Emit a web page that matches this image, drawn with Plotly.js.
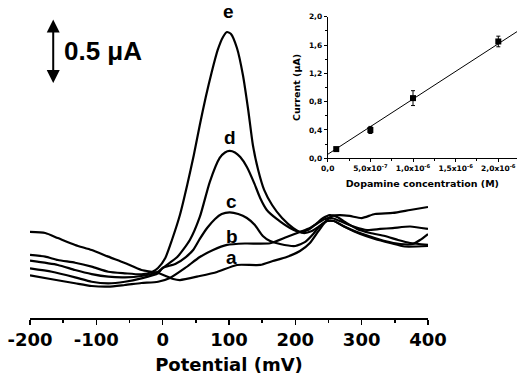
<!DOCTYPE html>
<html>
<head>
<meta charset="utf-8">
<script src="https://cdn.plot.ly/plotly-3.0.1.min.js"></script>
<style>html,body{margin:0;padding:0;background:#fff;}#chart{width:517px;height:375px;}</style>
</head>
<body>
<div id="chart"></div>
<script>
// ---- Main DPV curves: potential (mV) vs current (µA, arbitrary offset) ----
const potential_a = [-200,-177,-158,-132,-107,-82,-57,-32,-7,16,26,56,82,112,147,166,187,207,222,234,245,255,267,282,300,320,347,373,400];
const current_a   = [0.662,0.654,0.615,0.562,0.523,0.472,0.423,0.369,0.346,0.300,0.292,0.323,0.354,0.408,0.408,0.438,0.469,0.515,0.577,0.662,0.738,0.785,0.792,0.785,0.769,0.800,0.808,0.831,0.854];

const potential_b = [-200,-167,-132,-107,-82,-57,-32,-7,11,34,56,76,97,124,162,187,207,222,234,245,255,267,290,308,328,347,373,400];
const current_b   = [0.328,0.298,0.267,0.246,0.241,0.254,0.269,0.279,0.308,0.385,0.469,0.523,0.562,0.573,0.575,0.623,0.662,0.692,0.731,0.762,0.769,0.746,0.700,0.677,0.685,0.692,0.704,0.685];

const potential_c = [-200,-167,-132,-107,-82,-57,-32,-7,0,19,35,46,56,67,79,89,101,114,127,139,151,162,177,200,215,227,237,248,258,272,293,313,335,358,377,388,400];
const current_c   = [0.382,0.356,0.313,0.279,0.267,0.279,0.305,0.344,0.385,0.415,0.469,0.523,0.608,0.692,0.762,0.800,0.812,0.800,0.769,0.715,0.631,0.592,0.569,0.554,0.585,0.646,0.708,0.746,0.746,0.708,0.662,0.627,0.592,0.569,0.569,0.600,0.646];

const potential_d = [-200,-158,-132,-107,-82,-57,-32,-7,4,22,41,56,71,86,94,101,109,117,127,138,147,157,172,192,207,219,231,242,252,263,275,293,313,335,355,373,400];
const current_d   = [0.441,0.408,0.369,0.338,0.318,0.313,0.323,0.356,0.400,0.469,0.600,0.777,1.046,1.231,1.273,1.285,1.273,1.238,1.162,1.038,0.923,0.831,0.762,0.692,0.662,0.677,0.723,0.769,0.792,0.777,0.738,0.685,0.654,0.631,0.600,0.577,0.562];

const potential_e = [-200,-177,-158,-132,-107,-82,-57,-32,-16,-7,4,14,26,37,47,56,65,74,83,91,97,103,112,121,129,136,144,153,165,180,197,212,225,237,248,258,275,298,320,343,365,400];
const current_e   = [0.485,0.472,0.446,0.425,0.395,0.356,0.344,0.336,0.354,0.385,0.462,0.600,0.792,1.023,1.254,1.485,1.700,1.892,2.062,2.162,2.200,2.185,2.077,1.869,1.600,1.331,1.138,0.985,0.869,0.769,0.692,0.654,0.669,0.708,0.746,0.746,0.700,0.646,0.608,0.577,0.550,0.554];

const curveNames = ['a','b','c','d','e'];
const xTickVals  = [-200,-100,0,100,200,300,400];
const xTickText  = ['-200','-100','0','100','200','300','400'];

// ---- Inset: calibration ----
const concentration = [1e-7, 5e-7, 1e-6, 2e-6];
const peakCurrent   = [0.13, 0.40, 0.85, 1.65];
const currentError  = [0.025, 0.05, 0.105, 0.075];
const fitConc       = [0, 2.219e-6];
const fitCurrent    = [0.056, 1.789];
const insetXTickVals = [0, 5e-7, 1e-6, 1.5e-6, 2e-6];
const insetXTickText = ['0,0','5,0x10<sup>-7</sup>','1,0x10<sup>-6</sup>','1,5x10<sup>-6</sup>','2,0x10<sup>-6</sup>'];
const insetYTickVals = [0, 0.4, 0.8, 1.2, 1.6, 2.0];
const insetYTickText = ['0,0','0,4','0,8','1,2','1,6','2,0'];

const curves = [
  [potential_a, current_a],
  [potential_b, current_b],
  [potential_c, current_c],
  [potential_d, current_d],
  [potential_e, current_e]
];

const lineStyle = {color:'#000', width:2.2, shape:'spline', smoothing:0.6};
const traces = curves.map((c,i)=>({
  x:c[0], y:c[1], type:'scatter', mode:'lines', name:curveNames[i],
  line:lineStyle, xaxis:'x', yaxis:'y', hoverinfo:'skip'
}));

traces.push({
  x:fitConc, y:fitCurrent, type:'scatter', mode:'lines',
  line:{color:'#000', width:1}, xaxis:'x2', yaxis:'y2', cliponaxis:false
});
traces.push({
  x:concentration, y:peakCurrent, type:'scatter', mode:'markers',
  marker:{symbol:'square', size:6, color:'#000'},
  error_y:{type:'data', array:currentError, visible:true, color:'#000', thickness:1, width:2},
  xaxis:'x2', yaxis:'y2', cliponaxis:false
});

const boldFont = (fam,size)=>({family:fam, size:size, color:'#000', weight:'bold'});

// label positions for curves (mV, µA)
const labelPos = [[104,0.467],[104,0.625],[104,0.895],[102,1.392],[100,2.354]];
const annotations = curveNames.map((n,i)=>({
  x:labelPos[i][0], y:labelPos[i][1], xref:'x', yref:'y', text:n, showarrow:false,
  font:boldFont('Liberation Sans, Arial', 19), xanchor:'center', yanchor:'middle'
}));
// scale bar 0.5 µA
annotations.push({
  x:-165, y:1.808, ax:-165, ay:2.308, xref:'x', yref:'y', axref:'x', ayref:'y',
  text:'', showarrow:true, arrowhead:2, startarrowhead:2, arrowside:'end+start',
  arrowwidth:2, arrowsize:1.3, startarrowsize:1.3, arrowcolor:'#000', standoff:0, startstandoff:0
});
annotations.push({
  x:-152, y:2.054, xref:'x', yref:'y', text:'0.5 \u03bcA', showarrow:false,
  xanchor:'left', yanchor:'middle', font:boldFont('Liberation Sans, Arial', 26)
});

const layout = {
  width:517, height:375,
  margin:{l:30, r:0, t:0, b:57},
  paper_bgcolor:'#fff', plot_bgcolor:'rgba(0,0,0,0)',
  showlegend:false,
  xaxis:{
    domain:[0, 0.8172], range:[-200,400], anchor:'y',
    showline:true, linecolor:'#000', linewidth:1.5,
    showgrid:false, zeroline:false,
    tickmode:'array', tickvals:xTickVals, ticktext:xTickText,
    ticks:'outside', ticklen:5, tickwidth:1.5, tickcolor:'#000',
    minor:{tickmode:'array', tickvals:[-150,-50,50,150,250,350], ticks:'outside', ticklen:3, tickwidth:1.5, tickcolor:'#000'},
    tickfont:boldFont('DejaVu Sans', 18),
    title:{text:'Potential (mV)', font:boldFont('DejaVu Sans', 18), standoff:10}
  },
  yaxis:{domain:[0,1], range:[0, 2.4462], visible:false, fixedrange:true},
  xaxis2:{
    domain:[0.6113, 1], range:[0, 2.219e-6], anchor:'y2',
    showline:true, linecolor:'#000', linewidth:1,
    showgrid:false, zeroline:false,
    tickmode:'array', tickvals:insetXTickVals, ticktext:insetXTickText,
    ticks:'outside', ticklen:3, tickwidth:1, tickcolor:'#000',
    minor:{tickmode:'array', tickvals:[2.5e-7,7.5e-7,1.25e-6,1.75e-6], ticks:'outside', ticklen:2, tickwidth:1, tickcolor:'#000'},
    tickfont:boldFont('DejaVu Sans', 7.5),
    title:{text:'Dopamine concentration (M)', font:boldFont('DejaVu Sans', 9.5), standoff:8}
  },
  yaxis2:{
    domain:[0.5022, 0.9475], range:[0, 2.0], anchor:'x2',
    showline:true, linecolor:'#000', linewidth:1,
    showgrid:false, zeroline:false,
    tickmode:'array', tickvals:insetYTickVals, ticktext:insetYTickText,
    ticks:'outside', ticklen:3, tickwidth:1, tickcolor:'#000',
    minor:{tickmode:'array', tickvals:[0.2,0.6,1.0,1.4,1.8], ticks:'outside', ticklen:2, tickwidth:1, tickcolor:'#000'},
    tickfont:boldFont('DejaVu Sans', 7.5),
    title:{text:'Current (\u03bcA)', font:boldFont('DejaVu Sans', 9.5), standoff:6}
  },
  annotations:annotations
};

Plotly.newPlot('chart', traces, layout, {staticPlot:true, displayModeBar:false});
</script>
</body>
</html>
